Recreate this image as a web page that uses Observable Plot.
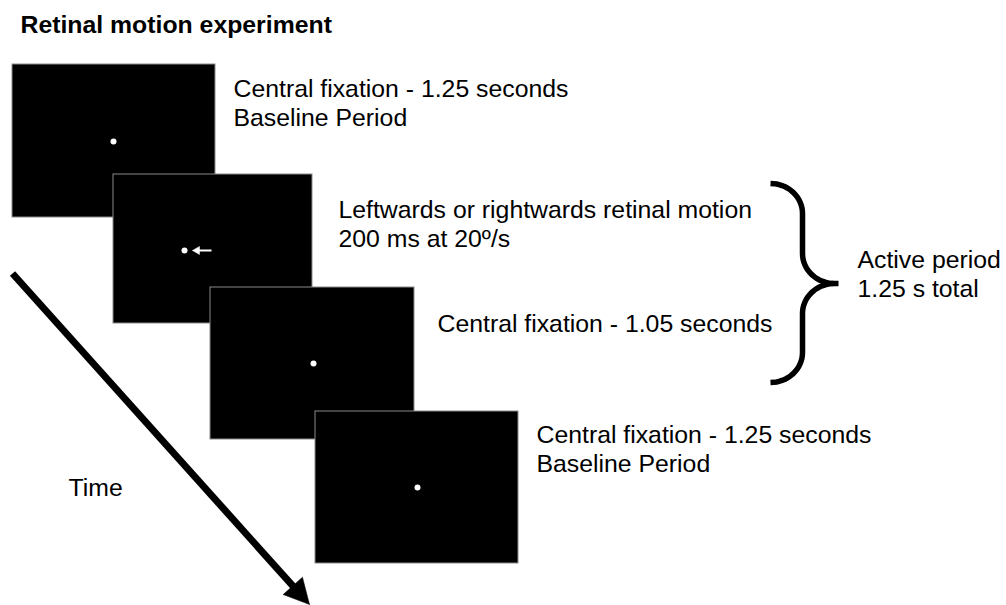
<!DOCTYPE html>
<html><head><meta charset="utf-8">
<script src="https://cdn.jsdelivr.net/npm/d3@7"></script>
<script src="https://cdn.jsdelivr.net/npm/@observablehq/plot@0.6"></script>
<style>
html,body{margin:0;padding:0;background:#fff;}
#chart svg{display:block;}
</style></head><body><div id="chart"></div>
<script>
const W = 1006, H = 605;

// Trial phases: one stimulus screen each (page-pixel frame)
const phases = ["Baseline", "Retinal motion", "Central fixation", "Baseline"];
const screenLeft   = [12, 113, 210, 315];
const screenRight  = [215, 312, 414, 518];
const screenTop    = [64, 174, 287, 411];
const screenBottom = [217, 323, 439, 563];
const fixX = [113, 184, 313, 417];
const fixY = [141, 250, 363, 487];

// Motion cue on the second screen (tail -> tip)
const cueX = [211, 192];
const cueY = [250, 250];

// Time arrow (tail -> tip)
const timeX = [12, 309];
const timeY = [273, 604];

// Brace grouping the active period
const braceX = [770, 802, 838];       // ends, spine, tip
const braceY = [183, 283, 382];       // top, tip, bottom

// Labels (y = baseline of last line)
const labelText = [
  "Central fixation - 1.25 seconds\nBaseline Period",
  "Leftwards or rightwards retinal motion\n200 ms at 20º/s",
  "Central fixation - 1.05 seconds",
  "Central fixation - 1.25 seconds\nBaseline Period",
  "Active period\n1.25 s total",
  "Time"
];
const labelX = [233, 338, 437, 536, 857, 68];
const labelY = [125, 246, 331, 471, 296, 495];
const titleText = ["Retinal motion experiment"];

// ---- build tables ----
const screens = phases.map((p, i) => ({phase: p, x1: screenLeft[i], x2: screenRight[i], y1: screenTop[i], y2: screenBottom[i], fx: fixX[i], fy: fixY[i]}));
const labels = labelText.map((t, i) => ({text: t, x: labelX[i], y: labelY[i]}));

function arrowParts(xs, ys, headLen, halfW) {
  const dx = xs[1] - xs[0], dy = ys[1] - ys[0], L = Math.hypot(dx, dy);
  const ux = dx / L, uy = dy / L, nx = -uy, ny = ux;
  const bx = xs[1] - headLen * ux, by = ys[1] - headLen * uy;
  return {
    shaft: [{x1: xs[0], y1: ys[0], x2: bx + ux, y2: by + uy}],
    head: [
      {x: xs[1], y: ys[1]},
      {x: bx + halfW * nx, y: by + halfW * ny},
      {x: bx - halfW * nx, y: by - halfW * ny},
      {x: xs[1], y: ys[1]}
    ]
  };
}
const timeArrow = arrowParts(timeX, timeY, 25, 13);
const cueArrow = arrowParts(cueX, cueY, 7, 4);

function arcPts(cx, cy, rx, ry, a0, a1, n = 16) {
  const out = [];
  for (let k = 0; k <= n; k++) {
    const a = (a0 + (a1 - a0) * k / n) * Math.PI / 180;
    out.push({x: cx + rx * Math.cos(a), y: cy + ry * Math.sin(a)});
  }
  return out;
}
const [bEnd, bSpine, bTip] = braceX;
const [bTop, bMid, bBot] = braceY;
const rx = bSpine - bEnd, ry = 30, rx2 = bTip - bSpine - 4;
const brace = [
  ...arcPts(bEnd, bTop + ry, rx, ry, -90, 0),
  ...arcPts(bSpine + rx2, bMid - ry, rx2, ry, 180, 90),
  {x: bTip, y: bMid},
  ...arcPts(bSpine + rx2, bMid + ry, rx2, ry, 270, 180),
  ...arcPts(bEnd, bBot - ry, rx, ry, 0, 90)
];

const font = "Liberation Sans, Arial, Helvetica, sans-serif";

const chart = Plot.plot({
  width: W, height: H, margin: 0,
  x: {domain: [0, W], range: [0, W], axis: null},
  y: {domain: [0, H], range: [0, H], axis: null},
  style: {background: "white", fontFamily: font},
  marks: [
    Plot.text(titleText, {x: () => 20, y: () => 32, text: d => d, textAnchor: "start", lineAnchor: "bottom", fontSize: 24.8, fontWeight: "bold", fill: "black", fontFamily: font}),
    // stimulus screens, later ones drawn on top
    Plot.rect(screens, {x1: "x1", x2: "x2", y1: "y1", y2: "y2", fill: "black", stroke: "#8a8a8a", strokeWidth: 1}),
    Plot.dot(screens, {x: "fx", y: "fy", r: 3, fill: "white", stroke: null}),
    // motion cue
    Plot.link(cueArrow.shaft, {x1: "x1", y1: "y1", x2: "x2", y2: "y2", stroke: "white", strokeWidth: 2}),
    Plot.line(cueArrow.head, {x: "x", y: "y", fill: "white", stroke: "white", strokeWidth: 0.5, curve: "linear"}),
    // time arrow
    Plot.link(timeArrow.shaft, {x1: "x1", y1: "y1", x2: "x2", y2: "y2", stroke: "black", strokeWidth: 7, strokeLinecap: "butt"}),
    Plot.line(timeArrow.head, {x: "x", y: "y", fill: "black", stroke: "black", strokeWidth: 0.5, curve: "linear"}),
    // brace
    Plot.line(brace, {x: "x", y: "y", stroke: "black", strokeWidth: 5.5, strokeLinecap: "butt", strokeLinejoin: "miter", strokeMiterlimit: 10, curve: "linear"}),
    // labels
    Plot.text(labels, {x: "x", y: "y", text: "text", textAnchor: "start", lineAnchor: "bottom", lineHeight: 1.16, fontSize: 24.8, fill: "black", fontFamily: font})
  ]
});
document.getElementById("chart").append(chart);
</script>
</body></html>
